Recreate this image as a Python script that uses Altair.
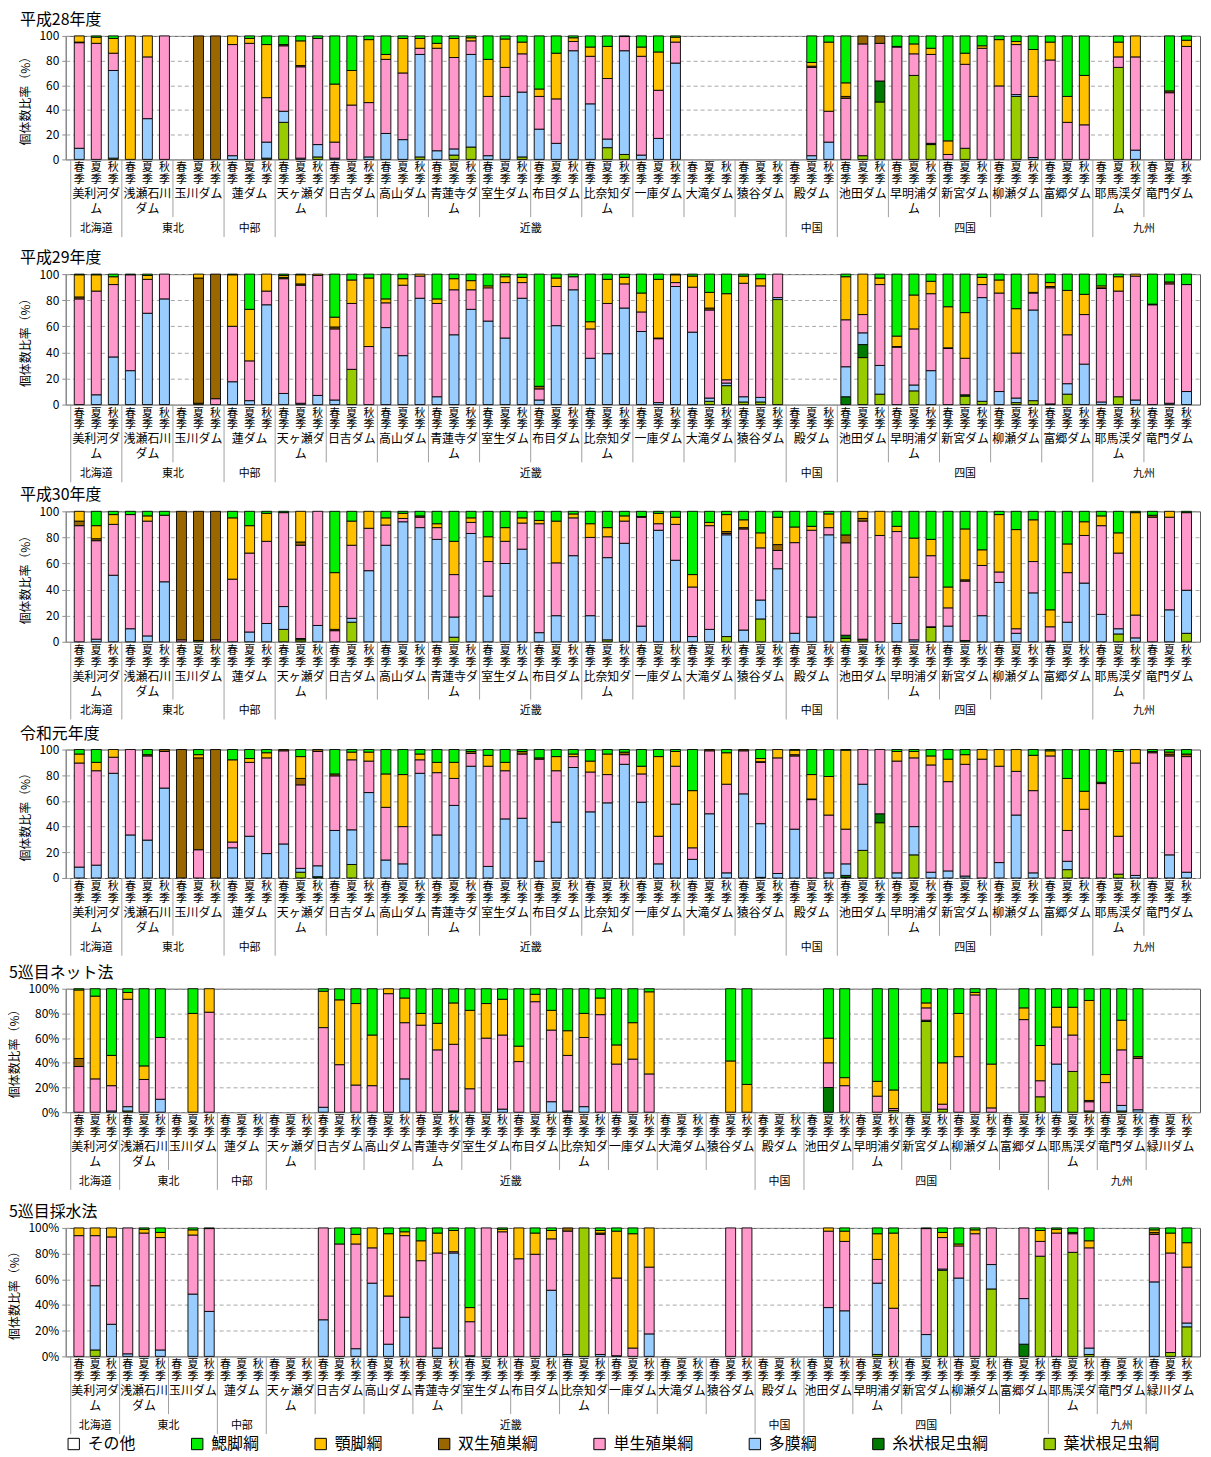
import altair as alt
import pandas as pd

FONT = "Noto Sans CJK JP"

CLASSES = ["その他", "鰓脚綱", "顎脚綱", "双生殖巣綱", "単生殖巣綱", "多膜綱", "糸状根足虫綱", "葉状根足虫綱"]
COLORS = ["#FFFFFF", "#00F000", "#FFC000", "#996600", "#FF99CC", "#99CCFF", "#007A00", "#99CC00"]
# each bar tuple lists its parts from the bottom of the stack upward
STACK_CLASSES = ["葉状根足虫綱", "糸状根足虫綱", "多膜綱", "単生殖巣綱", "双生殖巣綱", "顎脚綱", "鰓脚綱"]
SEASONS = ["春季", "夏季", "秋季"]

DAMS_A = ["美利河ダム", "浅瀬石川ダム", "玉川ダム", "蓮ダム", "天ヶ瀬ダム", "日吉ダム", "高山ダム",
          "青蓮寺ダム", "室生ダム", "布目ダム", "比奈知ダム", "一庫ダム", "大滝ダム", "猿谷ダム",
          "殿ダム", "池田ダム", "早明浦ダム", "新宮ダム", "柳瀬ダム", "富郷ダム", "耶馬渓ダム", "竜門ダム"]
DAMS_B = DAMS_A + ["緑川ダム"]
REGIONS_A = [("北海道", 1), ("東北", 2), ("中部", 1), ("近畿", 10), ("中国", 1), ("四国", 5), ("九州", 2)]
REGIONS_B = [("北海道", 1), ("東北", 2), ("中部", 1), ("近畿", 10), ("中国", 1), ("四国", 5), ("九州", 3)]

N = None
H28 = [
    (0, 0, 9, 85.5, 0.5, 5, 0), (0, 0, 0, 94, 0, 5, 1), (1, 0, 71, 14, 0, 12, 2),
    (0, 0, 0, 0, 0, 100, 0), (0, 0, 33, 50, 0, 17, 0), (0, 0, 0, 100, 0, 0, 0),
    N, (0, 0, 0, 0, 100, 0, 0), (0, 0, 0, 0, 100, 0, 0),
    (0, 0, 3, 90, 0, 7, 0), (0, 0, 0, 94, 0, 4, 2), (1, 0, 13, 36, 0, 43, 7),
    (30, 0, 9, 53, 1, 0, 7), (0, 0, 1, 74, 1, 20, 4), (2, 0, 10, 86, 0, 0, 2),
    (0, 0, 1, 13, 0, 47, 39), (0, 0, 0, 44, 0, 28, 28), (0, 0, 2, 44, 0, 51, 3),
    (0, 0, 21, 60, 0, 4, 15), (0, 0, 16, 54, 0, 28, 2), (2, 0, 83, 5, 0, 8, 2),
    (0, 0, 7, 83, 0, 4, 6), (3.5, 0, 5, 74, 0, 15.5, 2), (10, 0, 75, 11, 0, 2.5, 1.5),
    (0, 0, 3, 48, 0, 30, 19), (0, 0, 51, 23.5, 0, 23, 2.5), (2, 0, 52.5, 31, 0, 9.5, 5),
    (0, 0, 24.5, 26.5, 0, 6, 43), (0, 0, 13, 36, 0, 37, 14), (0, 0, 88, 7.5, 0, 3, 1.5),
    (0, 0, 45, 38.5, 0, 7.5, 9), (9.5, 0, 7, 49, 0, 26, 8.5), (4, 0, 84, 11.5, 0, 0, 0.5),
    (0, 0, 3.5, 80, 0, 7.5, 9), (0, 0, 17, 39, 0, 31, 13), (0, 0, 78, 17, 0, 4, 1),
    N, N, N,
    N, N, N,
    N, (0, 0, 3, 71.5, 1, 3, 21.5), (0, 0, 14, 25, 0, 56, 5),
    (0, 0, 0, 49.5, 1.5, 11, 38), (3, 0, 0, 90.5, 6.5, 0, 0), (46.5, 17, 0, 30.5, 6, 0, 0),
    (0, 0, 0, 91, 0.5, 0, 8.5), (68, 0, 0, 17.5, 0, 8, 6.5), (12, 1, 0, 72, 0, 5, 10),
    (0, 0, 0, 4, 0, 11, 85), (9, 0, 0, 68, 0, 9, 14), (0, 0, 0, 90, 0, 2, 8),
    (0, 0, 0, 59.5, 0, 37.5, 3), (51, 0, 1.5, 40.5, 0, 2.5, 4.5), (0, 0, 1.5, 49.5, 0, 38, 11),
    (0, 0, 0, 80.5, 0, 14.5, 5), (0, 0, 0, 30, 0, 21, 49), (0, 0, 0, 28, 0, 40, 32),
    N, (74.5, 0, 0, 8.5, 0, 12, 5), (0, 0, 7.5, 75.5, 0, 17, 0),
    N, (0, 0, 0, 54, 1.5, 0, 44.5), (0, 0, 0, 91.5, 0, 5, 3.5),
]
H29 = [
    (0, 0, 0, 81, 1.5, 17, 0.5), (0, 0, 7.5, 79.5, 0, 12.5, 0.5), (0, 0, 36.5, 55.5, 0, 6, 2),
    (0, 0, 26, 73.5, 0, 0, 0.5), (0, 0, 70, 26, 0, 3, 1), (0, 0, 81, 19, 0, 0, 0),
    N, (1, 0, 0, 0, 96, 3, 0), (0, 0, 0, 4.5, 95.5, 0, 0),
    (0, 0, 17.5, 42.5, 0, 39.5, 0.5), (0, 0, 3, 30.5, 0, 39.5, 27), (0, 0, 76.5, 10.5, 0, 13, 0),
    (0, 0, 8.5, 88, 1, 1.5, 1), (0, 0, 1, 90.5, 1, 7, 0.5), (0, 0, 7, 92, 0, 1, 0),
    (0, 0, 3.5, 54.5, 1.5, 7.5, 33), (27, 0, 0, 50.5, 0, 18, 4.5), (0, 0, 0, 44.5, 0, 52.5, 3),
    (0, 0, 59, 19, 0, 3, 19), (0, 0, 37.5, 54, 0, 5, 3.5), (0, 0, 81.5, 17, 0, 1.5, 0),
    (0, 0, 6, 71.5, 0, 3.5, 19), (0, 0, 53.5, 34.5, 0, 8.5, 3.5), (0, 0, 73, 15, 0, 7, 5),
    (0, 0, 64, 25.5, 0, 1.5, 9), (0, 0, 51, 42.5, 0, 4.5, 2), (0, 0, 81.5, 12, 0, 4, 2.5),
    (0, 0, 3.5, 8.5, 2, 0, 86), (0, 0, 60.5, 30, 0, 6.5, 3), (0, 0, 88, 10, 0, 0, 2),
    (0, 0, 35.5, 22.5, 0, 5.5, 36.5), (0, 0, 39, 38.5, 0, 18.5, 4), (0, 0, 74, 18.5, 0, 5, 2.5),
    (0, 0, 56, 15, 0, 14.5, 14.5), (0, 0, 1.5, 49, 0.5, 45, 4), (0, 0, 90.5, 3, 0, 6, 0.5),
    (0, 0, 55.5, 34.5, 0, 8.5, 1.5), (2.5, 0, 2.5, 67.5, 1.5, 12, 14), (14.5, 0, 2, 2.5, 0, 66, 15),
    (2, 0, 4, 87, 0, 5.5, 1.5), (2, 0, 3.5, 85.5, 0, 5.5, 3.5), (80.5, 0, 1.5, 18, 0, 0, 0),
    N, N, N,
    (0, 6, 23, 36, 0, 33, 2), (36, 10, 9, 14, 0, 31, 0), (8, 0, 22, 62, 0, 5, 3),
    (0, 0, 0, 44, 0.5, 8, 47.5), (10.5, 0, 4.5, 43, 0, 26, 16), (0, 0, 26, 59, 0, 9.5, 5.5),
    (0, 0, 0, 43, 0.5, 31.5, 25), (6.5, 1, 0, 28, 0, 35, 29.5), (2.5, 0, 79.5, 10, 0, 5.5, 2.5),
    (0, 0, 10, 75.5, 0, 10, 4.5), (1.5, 0, 3.5, 34.5, 0, 34, 26.5), (3, 0, 69.5, 13, 0.5, 14, 0),
    (0, 0, 0.5, 89, 1, 3, 6.5), (8, 0, 8, 37.5, 0, 34, 12.5), (0, 0, 31, 38, 0, 15.5, 15.5),
    (0, 0, 2, 87, 0.5, 1.5, 9), (6, 0, 0, 81, 0, 11, 2), (0, 0, 3.5, 95, 0, 1.5, 0),
    (0, 0, 0, 76.5, 0.5, 0, 23), (0, 0, 1, 91.5, 1.5, 0, 6), (0, 0, 10, 82, 0, 0, 8),
]
H30 = [
    (0, 0, 0, 89, 3.5, 7.5, 0), (0, 0, 2, 75.5, 1.5, 10, 11), (0, 0, 51, 39, 0, 7.5, 2.5),
    (0, 0, 10, 87.5, 0, 0, 2.5), (0, 0, 4.5, 88, 0, 4, 3.5), (0, 0, 46, 51, 0, 0, 3),
    (0, 0, 0, 1.5, 98.5, 0, 0), (1, 0, 0, 0, 99, 0, 0), (0, 0, 0, 1.5, 98.5, 0, 0),
    (0, 0, 0, 48, 0, 47, 5), (0, 0, 7.5, 60.5, 0, 21, 11), (0, 0, 14, 63, 0, 21.5, 1.5),
    (9.5, 0, 17.5, 72, 0, 0, 1), (1.5, 1, 0, 71.5, 2.5, 23.5, 0), (0, 0, 12.5, 87.5, 0, 0, 0),
    (0, 0, 0, 8.5, 1, 43.5, 47), (15, 0, 3, 56, 0, 18.5, 7.5), (0, 0, 54.5, 32.5, 0, 13, 0),
    (0, 0, 74, 15.5, 0, 5.5, 5), (0, 0, 92, 2.5, 0, 4, 1.5), (0, 0, 87.5, 8, 1, 0, 3.5),
    (0, 0, 78.5, 9, 0, 3, 9.5), (3.5, 0, 15.5, 32.5, 0, 25.5, 23), (0, 0, 83, 8.5, 0, 3.5, 5),
    (0, 0, 35, 26.5, 0, 19, 19.5), (0, 0, 60, 17, 0, 10.5, 12.5), (0, 0, 71, 20, 0, 4, 5),
    (0, 0, 7, 83.5, 0, 2.5, 7), (0, 0, 20, 40.5, 0, 32, 7.5), (0, 0, 66, 29, 0, 3, 2),
    (0, 0, 20, 60, 0, 10.5, 9.5), (1.5, 0, 63, 16, 0, 7, 12.5), (0, 0, 75.5, 17, 0, 4, 3.5),
    (0, 0, 12, 83.5, 0.5, 0, 4), (0, 0, 85.5, 5, 0, 8, 1.5), (0, 0, 62.5, 27.5, 0, 5.5, 4.5),
    (0, 0, 4, 38, 0, 9.5, 48.5), (0, 0, 9.5, 79.5, 0, 2.5, 8.5), (4, 0, 78, 1, 1.5, 13, 2.5),
    (0, 0, 9, 77.5, 1, 6, 6.5), (17.5, 0, 14.5, 40, 0, 11.5, 16.5), (0, 0, 56, 14, 4.5, 21, 4.5),
    (0, 0, 6.5, 69.5, 0, 12, 12), (0, 0, 19, 66.5, 0, 3, 11.5), (0, 0, 82, 5.5, 0, 10.5, 2),
    (2.5, 2.5, 0, 70.5, 6, 0, 18), (1.5, 0.5, 0, 91, 2, 5.5, 0), (0, 0, 0, 81.5, 0, 18.5, 0),
    (0, 0, 14, 70.5, 0, 4, 11.5), (0, 0, 1.5, 48, 0, 30, 20.5), (11, 0.5, 0, 54.5, 0, 12.5, 21.5),
    (0, 0, 12, 14, 0, 16, 58), (0, 1, 0, 45.5, 1, 39, 13.5), (0, 0, 20, 38.5, 0, 12, 29.5),
    (0, 0, 45.5, 8, 0, 44, 2.5), (0, 0, 6.5, 3.5, 0, 76, 14), (0, 0, 37.5, 24, 0, 32, 6.5),
    (0, 0, 0.5, 11, 0, 13, 75.5), (0, 0, 15, 38, 0, 22, 25), (0, 0, 45, 36.5, 0, 10.5, 8),
    (0, 0, 21, 68, 0, 7.5, 3.5), (6, 0, 4, 58, 0, 15.5, 16.5), (0, 0, 3, 17.5, 0, 78.5, 1),
    (0, 0, 0, 95.5, 1.5, 0, 3), (0, 0, 24.5, 71, 0, 4.5, 0), (6.5, 0, 33, 59.5, 0, 0, 1),
]
R1 = [
    (0, 0, 8.5, 81, 0, 7, 3.5), (0, 0, 10, 73.5, 0, 6.5, 10), (0, 0, 81.5, 12.5, 0, 6, 0),
    (0, 0, 33.5, 66.5, 0, 0, 0), (0, 0, 29.5, 65.5, 1, 0, 4), (0, 0, 70, 28.5, 1.5, 0, 0),
    (0, 0, 0, 0, 100, 0, 0), (0, 0, 0, 22, 71.5, 2.5, 4), (0, 0, 0, 0, 100, 0, 0),
    (0, 0, 23.5, 4.5, 0, 64, 8), (0, 0, 32.5, 57.5, 0, 3, 7), (0, 0, 19, 74.5, 0, 4, 2.5),
    (0, 0, 26.5, 72.5, 1, 0, 0), (4.5, 0, 3, 65, 5, 17, 5.5), (0, 1, 8.5, 89, 1.5, 0, 0),
    (0, 0, 37, 42.5, 1.5, 0, 19), (10.5, 0, 27, 54.5, 0, 6, 2), (0, 0, 66.5, 24.5, 0, 7, 2),
    (0, 0, 14, 41, 0, 26, 19), (0, 0, 11, 29, 0, 40.5, 19.5), (0, 0, 81.5, 10.5, 0, 4.5, 3.5),
    (0, 0, 33.5, 48.5, 0, 8, 10), (0, 0, 56.5, 21, 0, 12.5, 10), (0, 0, 87, 10, 1.5, 0, 1.5),
    (0, 0, 9, 78, 0, 8.5, 4.5), (0, 0, 46, 37.5, 0, 6.5, 10), (0, 0, 46.5, 50, 2, 0, 1.5),
    (0, 0, 13, 79.5, 1, 0, 6.5), (0, 0, 43.5, 40, 0, 11, 5.5), (0, 0, 86, 8.5, 0, 2, 3.5),
    (0, 0, 51.5, 31, 0, 8.5, 9), (0, 0, 58.5, 22, 0, 16, 3.5), (0, 0, 88.5, 7.5, 2, 0, 2),
    (0, 0, 59, 22, 0, 6, 13), (0, 0, 11, 21.5, 0, 62, 5.5), (0, 0, 57.5, 29.5, 0, 11.5, 1.5),
    (0, 0, 14.5, 9, 0, 44.5, 32), (0, 0, 50, 49, 1, 0, 0), (0, 0, 4, 69, 0, 24.5, 2.5),
    (0, 0, 65.5, 33.5, 1, 0, 0), (0, 0.5, 42, 48, 0.5, 2.5, 7), (0, 0, 3.5, 90, 0, 6.5, 0),
    (0, 0, 38, 57, 1, 3.5, 0.5), (0, 0, 0, 61, 0.5, 19, 19.5), (0, 0, 4, 45, 0, 30, 21),
    (0.5, 1.5, 9, 27, 0, 61.5, 0.5), (21.5, 0, 51.5, 27, 0, 0, 0), (43, 7, 0, 50, 0, 0, 0),
    (0, 0, 4, 87, 0, 7.5, 1.5), (18, 0, 22, 53.5, 0, 5, 1.5), (0, 0, 4.5, 83.5, 0, 7, 5),
    (0, 0, 5.5, 69.5, 0, 17.5, 7.5), (0, 0, 1.5, 87, 0, 7.5, 4), (0, 0, 0, 92.5, 0, 7.5, 0),
    (0, 0, 12, 75, 0, 13, 0), (0, 0, 49, 34, 0, 17, 0), (0, 0, 4, 64, 0, 27.5, 4.5),
    (0, 0, 0, 95, 0, 4, 1), (6.5, 0, 6.5, 24, 0, 40.5, 22.5), (0, 0, 0, 53.5, 0, 14, 32.5),
    (0, 0, 0, 73.5, 1, 0, 25.5), (3, 0, 0, 29.5, 0, 66, 1.5), (0, 0, 2, 87.5, 0, 10.5, 0),
    (0, 0, 0, 97.5, 1, 0, 1.5), (0, 0, 18, 77, 1.5, 1.5, 2), (0, 0, 4.5, 90, 2, 0, 3.5),
]
NET5 = [
    (0, 0, 0, 37, 6.5, 55.5, 1), (0, 0, 0, 27, 0, 67, 6), (0, 0, 1, 20.5, 0, 24.5, 54),
    (1, 0, 3.5, 87, 0, 5.5, 3), (0, 0, 0, 26.5, 0, 11, 62.5), (0, 0, 10.5, 50, 0, 0, 39.5),
    N, (0, 0, 0, 0, 0, 80, 20), (0, 0, 0, 81, 0, 19, 0),
    N, N, N,
    N, N, N,
    (0, 0, 4, 64.5, 0, 29.5, 2), (0, 0, 0, 38.5, 0, 52.5, 9), (0, 0, 0, 22, 0, 66, 12),
    (0, 0, 0, 21.5, 0, 41, 37.5), (0, 0, 0, 96, 0, 4, 0), (0, 0, 27, 45.5, 0, 20, 7.5),
    (0, 0, 0, 70.5, 0, 9.5, 20), (0, 0, 0, 50.5, 0, 21.5, 28), (0, 1, 0, 54, 0, 33.5, 11.5),
    (0, 0, 0, 19, 0, 63.5, 17.5), (0, 0, 0, 60, 0, 28, 12), (0, 0, 2.5, 60, 0, 29, 8.5),
    (0, 0, 0, 41, 0, 12.5, 46.5), (0, 0, 0, 89.5, 0, 6, 4.5), (0, 0, 8.5, 58, 0, 16, 17.5),
    (0, 0, 1, 45, 0, 20, 34), (0, 0, 4.5, 56, 0, 19.5, 20), (0, 0, 0, 79, 0, 13.5, 7.5),
    (0, 0, 0, 39, 0, 15.5, 45.5), (0, 0, 0, 43, 0, 29.5, 27.5), (0, 0, 0, 31, 0, 66.5, 2.5),
    N, N, N,
    N, (0, 0, 0, 0, 0, 41.5, 58.5), (0, 0, 0, 0, 0, 22.5, 77.5),
    N, N, N,
    N, (0, 20, 0, 20, 0, 20, 40), (0, 0, 0, 21.5, 0, 6.5, 72),
    N, (0, 0, 0, 13, 0, 12, 75), (1.5, 0, 0, 1.5, 0, 15, 82),
    N, (73.5, 1, 0, 10, 0, 4, 11.5), (2.5, 0, 0, 4, 0, 33.5, 60),
    (0, 0, 0, 45, 0, 35, 20), (0, 0, 0, 95, 0, 2, 3), (0, 0, 0, 3.5, 0, 35.5, 61),
    N, (0, 0, 0, 75, 0, 9.5, 15.5), (12.5, 0, 0, 13, 0, 28.5, 46),
    (0, 0, 39, 30, 0, 16, 15), (33, 0, 0, 29.5, 0, 22.5, 15), (1, 0, 0, 7.5, 1, 81, 9.5),
    (0, 0, 0, 24, 0, 6.5, 69.5), (1, 0, 4.5, 45, 0, 24, 25.5), (0, 0, 2, 41.5, 1.5, 0, 55),
    N, N, N,
]
WATER5 = [
    (0, 0, 0, 94, 0, 6, 0), (5, 0, 50, 39, 0, 6, 0), (0, 0, 25, 68, 0, 7, 0),
    (0, 0, 2, 98, 0, 0, 0), (0, 0, 0, 96, 0, 3, 1), (0, 0, 5, 87.5, 0, 4, 3.5),
    N, (0, 0, 48.5, 46, 0, 4, 1.5), (0, 0, 35, 64.5, 0, 0, 0.5),
    N, N, N,
    N, N, N,
    (0, 0, 28.5, 71.5, 0, 0, 0), (0, 0, 0, 87.5, 0, 0, 12.5), (0, 0, 6, 81.5, 0, 7.5, 5),
    (0, 0, 57, 27.5, 0, 15.5, 0), (0, 0, 9.5, 37.5, 0, 48.5, 4.5), (0, 0, 30.5, 63.5, 0, 3, 3),
    (0, 0, 0, 74.5, 0, 15.5, 10), (0, 0, 6.5, 74, 0, 15.5, 4), (0, 0, 80.5, 1, 0, 16.5, 2),
    (0, 0, 0.5, 26.5, 0, 11, 62), (0, 0, 0, 100, 0, 0, 0), (0, 0, 0, 97, 0, 2, 1),
    (0, 0, 0, 76, 0, 24, 0), (0, 0, 0, 79.5, 0, 16.5, 4), (0, 0, 51.5, 40, 0, 6.5, 2),
    (0, 0, 1.5, 96, 2.5, 0, 0), (100, 0, 0, 0, 0, 0, 0), (0, 0, 1.5, 93.5, 1, 2, 2),
    (0, 0, 0.5, 60.5, 0, 36.5, 2.5), (0, 0, 0, 6.5, 0, 89, 4.5), (0, 0, 17.5, 52, 0, 30.5, 0),
    N, N, N,
    N, (0, 0, 0, 100, 0, 0, 0), (0, 0, 0, 100, 0, 0, 0),
    N, N, N,
    N, (0, 0, 38, 59.5, 0, 2.5, 0), (0, 0, 35.5, 54, 0, 8, 2.5),
    N, (1.5, 0, 55.5, 18.5, 0, 20, 4.5), (0, 0, 0, 37.5, 0, 58.5, 4),
    N, (0, 0, 17, 82.5, 0, 0, 0.5), (67, 0, 1, 24.5, 0, 4, 3.5),
    (0, 0, 61, 25, 0, 1.5, 12.5), (0, 0, 0, 95.5, 0, 3, 1.5), (52.5, 0, 19, 28.5, 0, 0, 0),
    N, (0, 9.5, 35.5, 55, 0, 0, 0), (78, 0, 0, 11.5, 0, 8.5, 2),
    (0, 0, 0, 96, 0, 3, 1), (81, 0, 0, 14.5, 1, 0, 3.5), (1.5, 0, 5, 78, 0, 5.5, 10),
    N, N, N,
    (0, 0, 58, 37, 1.5, 2, 1.5), (3, 0, 0, 77.5, 0, 15.5, 4), (23, 0, 3, 43.5, 0, 19, 11.5),
]

# title, data, dams, regions, plot height, plot width, percent labels, extra gap below panel
PANELS = [
    ("平成28年度", H28, DAMS_A, REGIONS_A, 124, 1139, False, 8),
    ("平成29年度", H29, DAMS_A, REGIONS_A, 131, 1139, False, 0),
    ("平成30年度", H30, DAMS_A, REGIONS_A, 131, 1139, False, 1),
    ("令和元年度", R1, DAMS_A, REGIONS_A, 129, 1139, False, 4),
    ("5巡目ネット法", NET5, DAMS_B, REGIONS_B, 124, 1139, True, 9),
    ("5巡目採水法", WATER5, DAMS_B, REGIONS_B, 129, 1139, True, 0),
]

GRAY = "#8C8C8C"


def text_layer(df, field, xfield, xs, ypix, size, baseline="top"):
    return alt.Chart(df).mark_text(
        baseline=baseline, fontSize=size, font=FONT, color="#000000"
    ).encode(x=alt.X(xfield + ":Q", scale=xs, axis=None), y=alt.value(ypix), text=field + ":N")


def make_panel(title, bars, dams, regions, height, width, pct, gap):
    n = len(dams) * 3
    rows = []
    for i, b in enumerate(bars):
        if b is None:
            continue
        for k, v in enumerate(b):
            if v > 0:
                rows.append({"idx": i, "cls": STACK_CLASSES[k], "order": k, "value": v})
    bar_df = pd.DataFrame(rows)
    xs = alt.Scale(domain=[-0.5, n - 0.5], nice=False, zero=False)

    axis_kw = dict(values=[0, 0.2, 0.4, 0.6, 0.8, 1.0], title="個体数比率（%）",
                   grid=True, gridDash=[4, 3], gridColor="#A6A6A6",
                   domainColor=GRAY, tickColor=GRAY, tickSize=4,
                   labelFontSize=12, labelFont=FONT, labelColor="#000000",
                   titleFont=FONT, titleFontSize=12, titleFontWeight="normal",
                   titleColor="#000000", titlePadding=6, labelPadding=3)
    if pct:
        axis_kw["format"] = ".0%"
    else:
        axis_kw["labelExpr"] = "format(datum.value * 100, 'd')"

    bars_ch = alt.Chart(bar_df).transform_stack(
        stack="value", groupby=["idx"], as_=["y0", "y1"], offset="normalize",
        sort=[alt.SortField("order", order="ascending")]
    ).mark_bar(size=10, stroke="#000000", strokeWidth=0.9).encode(
        x=alt.X("idx:Q", scale=xs, axis=None),
        y=alt.Y("y0:Q", scale=alt.Scale(domain=[0, 1], nice=False), axis=alt.Axis(**axis_kw)),
        y2="y1:Q",
        color=alt.Color("cls:N", scale=alt.Scale(domain=CLASSES, range=COLORS),
                        legend=alt.Legend(title=None)),
    )

    season_df = pd.DataFrame({"idx": list(range(n)),
                              "s1": [SEASONS[i % 3][0] for i in range(n)],
                              "s2": [SEASONS[i % 3][1] for i in range(n)]})
    season1 = text_layer(season_df, "s1", "idx", xs, height + 3, 11)
    season2 = text_layer(season_df, "s2", "idx", xs, height + 15, 11)

    dam_df = pd.DataFrame({"xc": [3 * d + 1 for d in range(len(dams))],
                           "l1": [d[:4] for d in dams],
                           "l2": [d[4:] for d in dams]})
    dam1 = text_layer(dam_df, "l1", "xc", xs, height + 30, 12)
    dam2 = text_layer(dam_df, "l2", "xc", xs, height + 45, 12)

    reg_rows, bounds, start = [], [], 0
    for rname, cnt in regions:
        reg_rows.append({"xc": start * 3 + (cnt * 3 - 1) / 2, "r": rname})
        bounds.append(start * 3 - 0.5)
        start += cnt
    reg_ch = text_layer(pd.DataFrame(reg_rows), "r", "xc", xs, height + 70, 11, "middle")

    dam_bounds = [3 * d - 0.5 for d in range(len(dams)) if (3 * d - 0.5) not in bounds]
    dline = alt.Chart(pd.DataFrame({"bx": dam_bounds})).mark_rule(
        color="#A0A0A0", strokeWidth=1
    ).encode(x=alt.X("bx:Q", scale=xs, axis=None), y=alt.value(height), y2=alt.value(height + 58))
    rline = alt.Chart(pd.DataFrame({"bx": bounds})).mark_rule(
        color="#A0A0A0", strokeWidth=1
    ).encode(x=alt.X("bx:Q", scale=xs, axis=None), y=alt.value(height), y2=alt.value(height + 78))
    # transparent spacer that only reserves room under the panel
    spacer = alt.Chart(pd.DataFrame({"bx": [bounds[0]]})).mark_rule(opacity=0).encode(
        x=alt.X("bx:Q", scale=xs, axis=None), y=alt.value(height), y2=alt.value(height + 78 + gap))

    return alt.layer(bars_ch, dline, rline, spacer, season1, season2, dam1, dam2, reg_ch).properties(
        width=width, height=height,
        title=alt.TitleParams(text=title, anchor="start", fontSize=16, font=FONT,
                              fontWeight="normal", color="#000000", offset=2),
    )


panels = [make_panel(*p) for p in PANELS]

chart = alt.vconcat(*panels, spacing=3.2).properties(
    padding={"left": 0, "top": 0, "right": 2, "bottom": 0}
).configure_view(
    stroke="#5A5A5A", strokeWidth=1
).configure_legend(
    orient="bottom", direction="horizontal", columnPadding=53, labelFontSize=16,
    labelFont=FONT, labelColor="#000000", symbolType="square", symbolSize=130,
    symbolStrokeColor="#000000", symbolStrokeWidth=1, labelOffset=6, offset=1,
)

chart.save("out.html", embed_options={"renderer": "svg", "actions": False})
